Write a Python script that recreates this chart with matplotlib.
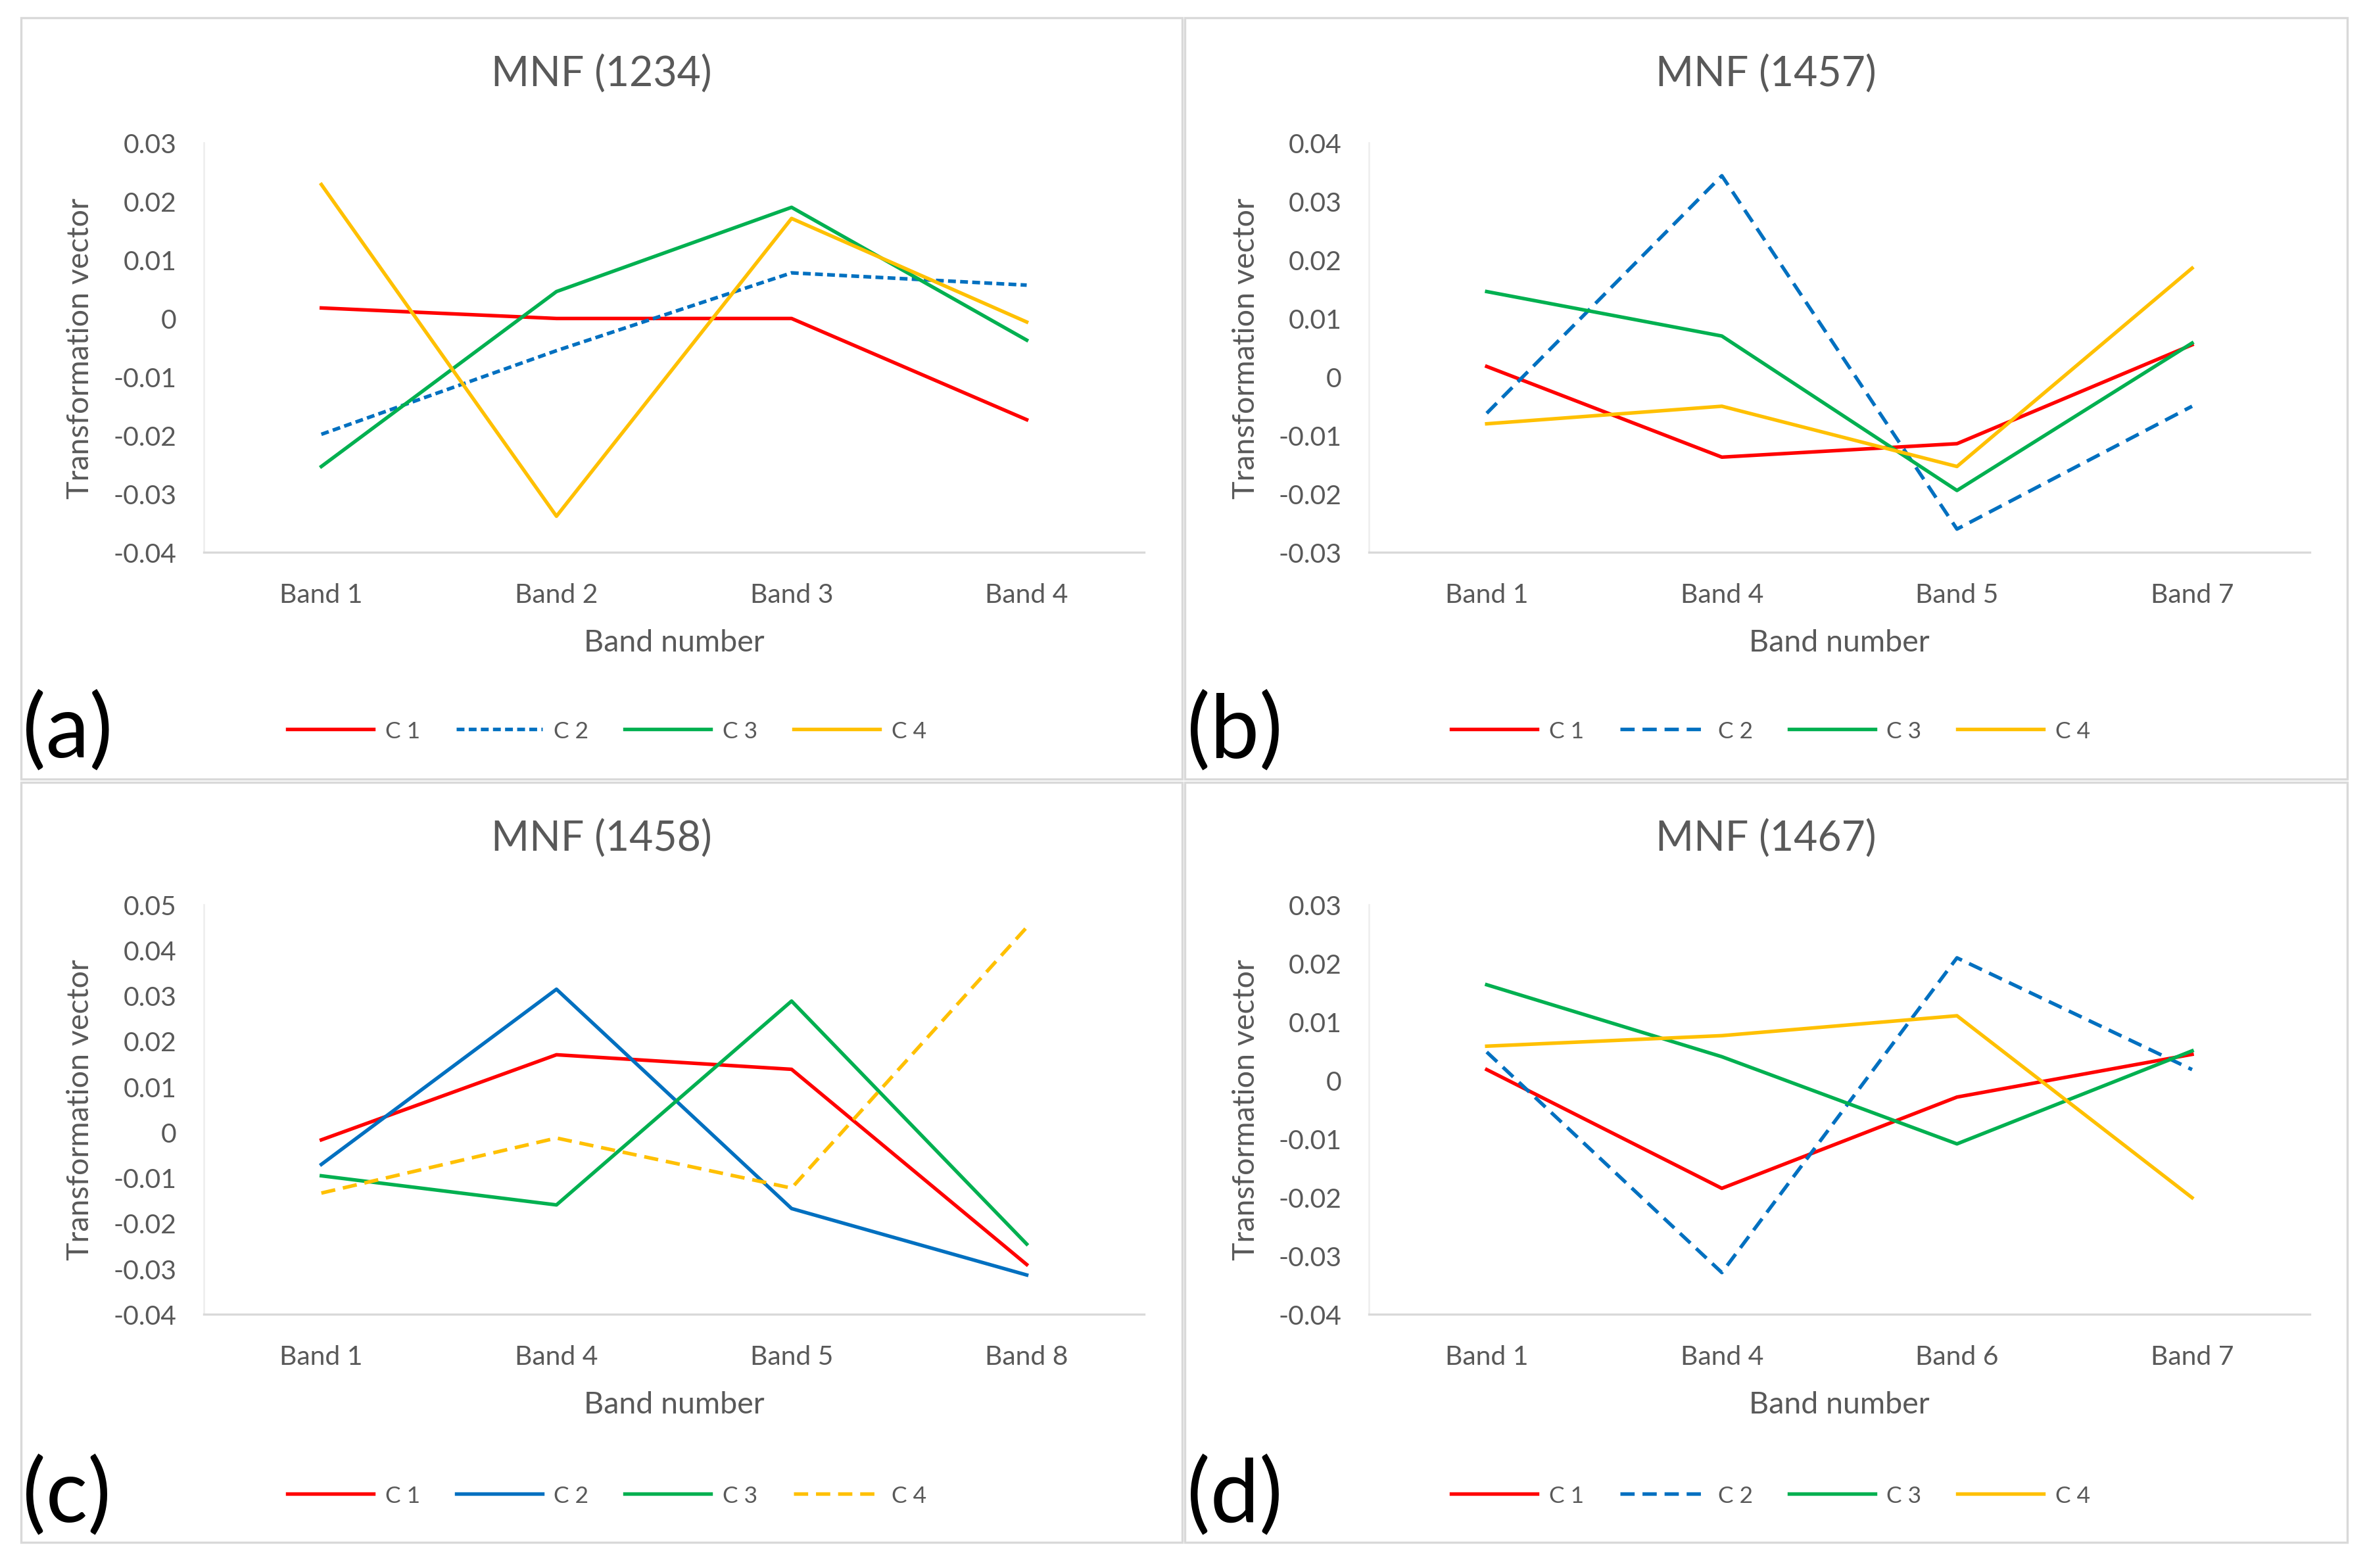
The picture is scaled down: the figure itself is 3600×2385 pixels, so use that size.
import matplotlib
matplotlib.use('Agg')
import matplotlib.pyplot as plt
from matplotlib.patches import Rectangle
from matplotlib.ticker import FuncFormatter, MultipleLocator

plt.rcParams['font.family'] = ['Lato', 'DejaVu Sans']

# Datos de los cuatro paneles
titles = ['MNF (1234)', 'MNF (1457)', 'MNF (1458)', 'MNF (1467)']
panel_tags = ['(a)', '(b)', '(c)', '(d)']
series_names = ['C 1', 'C 2', 'C 3', 'C 4']

bands_a = ['Band 1', 'Band 2', 'Band 3', 'Band 4']
bands_b = ['Band 1', 'Band 4', 'Band 5', 'Band 7']
bands_c = ['Band 1', 'Band 4', 'Band 5', 'Band 8']
bands_d = ['Band 1', 'Band 4', 'Band 6', 'Band 7']

a_c1 = [0.0018, 0.0, 0.0, -0.0173]
a_c2 = [-0.0198, -0.0055, 0.0078, 0.0057]
a_c3 = [-0.0253, 0.0046, 0.0190, -0.0037]
a_c4 = [0.0229, -0.0338, 0.0171, -0.0006]

b_c1 = [0.0018, -0.0137, -0.0114, 0.0055]
b_c2 = [-0.0062, 0.0344, -0.0260, -0.0050]
b_c3 = [0.0146, 0.0070, -0.0194, 0.0058]
b_c4 = [-0.0080, -0.0050, -0.0153, 0.0186]

c_c1 = [-0.0017, 0.0170, 0.0138, -0.0291]
c_c2 = [-0.0071, 0.0314, -0.0168, -0.0314]
c_c3 = [-0.0096, -0.0160, 0.0288, -0.0246]
c_c4 = [-0.0134, -0.0013, -0.0123, 0.0450]

d_c1 = [0.0018, -0.0185, -0.0029, 0.0044]
d_c2 = [0.0048, -0.0329, 0.0209, 0.0018]
d_c3 = [0.0163, 0.0040, -0.0109, 0.0050]
d_c4 = [0.0058, 0.0076, 0.0110, -0.0201]

y_limits = [(-0.04, 0.03), (-0.03, 0.04), (-0.04, 0.05), (-0.04, 0.03)]

colors = ['#FF0000', '#0070C0', '#00B050', '#FFC000']
TXT = '#595959'
GRID = '#D9D9D9'

# qué serie va punteada en cada panel
dashed = [1, 1, 3, 1]
dash_style = [(0, (2.2, 1.2)), (0, (4, 2.2)), (0, (4, 2.2)), (0, (4, 2.2))]

W, H = 1568.0, 1038.0


def fmt(v, pos):
    v = round(v, 4)
    if v == 0:
        return '0'
    return f'{v:g}'


def draw_panel(fig, rect, box, title, tag, bands, data, ylim, dash_idx, dstyle):
    ax = fig.add_axes(rect)
    x = range(len(bands))
    for i, ys in enumerate(data):
        ls = dstyle if i == dash_idx else '-'
        ax.plot(x, ys, color=colors[i], lw=1.3, ls=ls, label=series_names[i])
    ax.set_xlim(-0.5, len(bands) - 0.5)
    ax.set_ylim(*ylim)
    ax.yaxis.set_major_locator(MultipleLocator(0.01))
    ax.yaxis.set_major_formatter(FuncFormatter(fmt))
    ax.set_xticks(list(x))
    ax.set_xticklabels(bands)
    ax.tick_params(length=0, labelsize=9.8, labelcolor=TXT)
    ax.tick_params(axis='y', pad=10)
    ax.tick_params(axis='x', pad=11)
    for s in ['top', 'right']:
        ax.spines[s].set_visible(False)
    ax.spines['bottom'].set_color(GRID)
    ax.spines['left'].set_color('#EDEDED')
    ax.spines['bottom'].set_linewidth(0.8)
    ax.spines['left'].set_linewidth(0.6)
    ax.set_xlabel('Band number', fontsize=11.2, color=TXT, labelpad=8)
    ax.set_ylabel('Transformation vector', fontsize=11.2, color=TXT, labelpad=7)

    x0, y0, x1, y1 = box
    fig.text((x0 + x1) / 2 / W, 1 - (y0 + 37) / H, title, fontsize=15,
             color=TXT, ha='center', va='center')
    leg_y = 1 - (y0 + 472) / H
    leg = ax.legend(loc='center', bbox_to_anchor=((x0 + 388) / W, leg_y),
                    bbox_transform=fig.transFigure, ncol=4, frameon=False,
                    fontsize=8.5, handlelength=3.7, columnspacing=1.55,
                    handletextpad=0.5)
    for t in leg.get_texts():
        t.set_color(TXT)
    fig.text((x0 + 1) / W, leg_y, tag, fontsize=32, va='center', ha='left',
             color='black')
    return ax


def main():
    fig = plt.figure(figsize=(12, 7.953), dpi=300)

    # bordes de cada panel
    boxes = [(14, 12, 783, 516), (785, 12, 1555, 516),
             (14, 518, 783, 1021), (785, 518, 1555, 1021)]
    for x0, y0, x1, y1 in boxes:
        fig.patches.append(Rectangle((x0 / W, 1 - y1 / H), (x1 - x0) / W,
                                     (y1 - y0) / H, transform=fig.transFigure,
                                     fill=False, edgecolor=GRID, lw=0.8))

    axw = 623 / W
    axh = 271 / H
    rects = [(135 / W, 1 - 366 / H, axw, axh),
             (907 / W, 1 - 366 / H, axw, axh),
             (135 / W, 1 - 870 / H, axw, axh),
             (907 / W, 1 - 870 / H, axw, axh)]
    bands = [bands_a, bands_b, bands_c, bands_d]
    datas = [[a_c1, a_c2, a_c3, a_c4], [b_c1, b_c2, b_c3, b_c4],
             [c_c1, c_c2, c_c3, c_c4], [d_c1, d_c2, d_c3, d_c4]]

    for i in range(4):
        draw_panel(fig, rects[i], boxes[i], titles[i], panel_tags[i], bands[i],
                   datas[i], y_limits[i], dashed[i], dash_style[i])

    fig.savefig('out.png', dpi=300, facecolor='white')


if __name__ == '__main__':
    main()
